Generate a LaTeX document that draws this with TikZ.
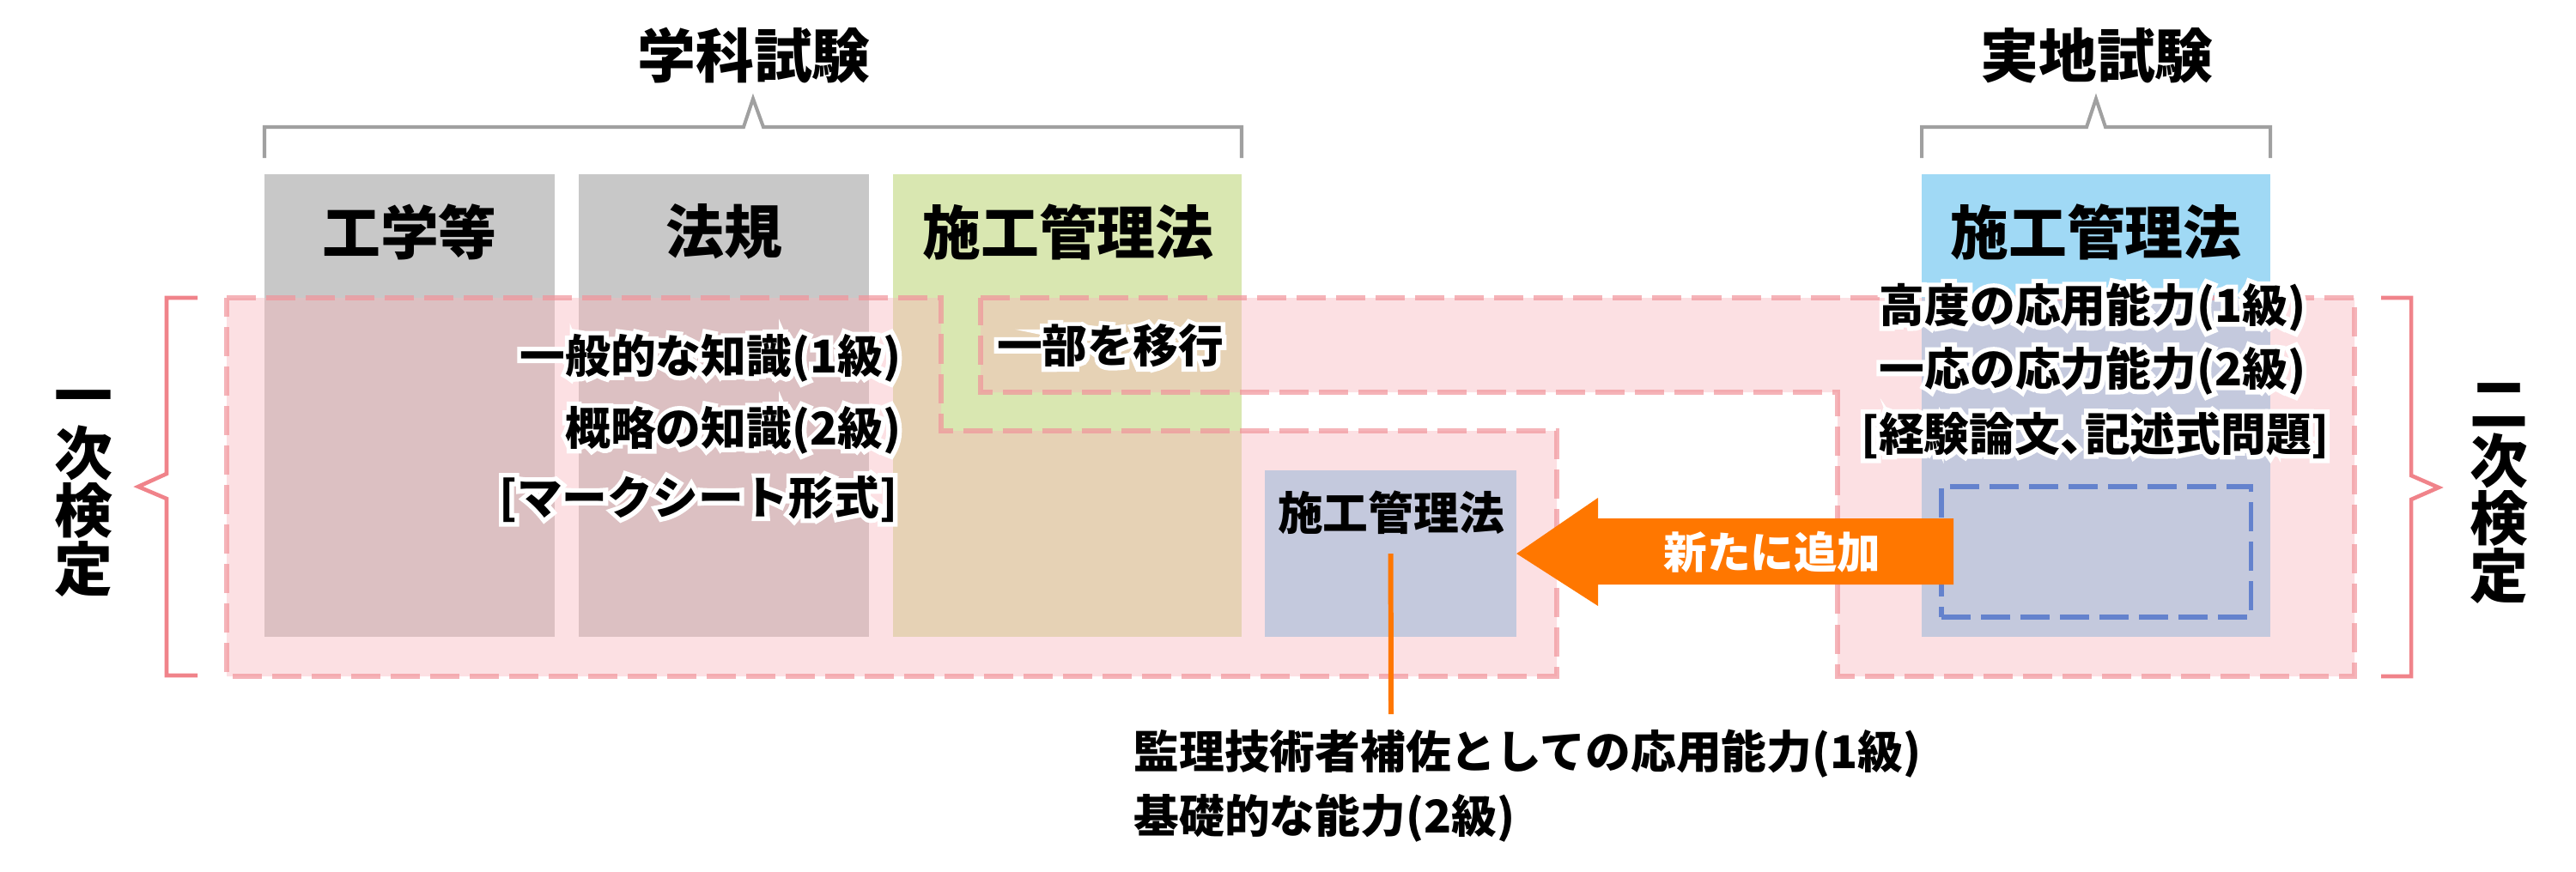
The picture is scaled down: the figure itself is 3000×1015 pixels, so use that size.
\documentclass[tikz,border=0pt]{standalone}
\usepackage{fontspec}
\setmainfont{Noto Sans CJK JP}
\newfontfamily\halofont{Noto Sans CJK JP}[BoldFeatures={FakeBold=20}]
\newcommand\halo[1]{\leavevmode\rlap{\halofont\bfseries\color{white}#1}{#1}}
\definecolor{boxgray}{RGB}{200,200,200}
\definecolor{boxgreen}{RGB}{217,231,177}
\definecolor{boxblue}{RGB}{160,217,245}
\definecolor{pinkfill}{RGB}{248,181,188}
\definecolor{pinkdash}{RGB}{241,148,155}
\definecolor{brpink}{RGB}{240,131,138}
\definecolor{brgray}{RGB}{160,160,160}
\definecolor{dashblue}{RGB}{100,130,205}
\definecolor{orangec}{RGB}{255,119,0}
\begin{document}
\begin{tikzpicture}[x=0.01cm,y=-0.01cm,
  box/.style={anchor=north west, inner sep=0pt, outer sep=0pt},
  title/.style={font=\fontsize{19.3}{20}\selectfont\bfseries, inner sep=0pt},
  vert/.style={font=\fontsize{19.3}{19.07}\selectfont\bfseries, inner sep=0pt, align=center},
  mid/.style={font=\fontsize{15}{16}\selectfont\bfseries, inner sep=0pt},
  region/.style={fill=pinkfill, fill opacity=0.42},
  regionline/.style={draw=pinkdash, draw opacity=0.7, line width=1.6pt, dash pattern=on 0.34cm off 0.12cm},
  brk/.style={draw=brpink, line width=1.3pt},
  topbrk/.style={draw=brgray, line width=1.15pt},
]
\useasboundingbox (0,0) rectangle (3000,1015);

% boxes
\node[box, fill=boxgray, minimum width=3.38cm, minimum height=5.39cm] (kogaku) at (308,203) {};
\node[box, fill=boxgray, minimum width=3.38cm, minimum height=5.39cm] (hoki) at (674,203) {};
\node[box, fill=boxgreen, minimum width=4.06cm, minimum height=5.39cm] (sekoA) at (1040,203) {};
\node[box, fill=boxblue, minimum width=4.06cm, minimum height=5.39cm] (sekoB) at (2238,203) {};
\node[box, fill=boxblue, minimum width=2.93cm, minimum height=1.94cm] (small) at (1473,548) {};

% pink regions
\fill[region] (264,347) -- (1096,347) -- (1096,502) -- (1813,502) -- (1813,788) -- (264,788) -- cycle;
\draw[regionline] (264,347) -- (1096,347) -- (1096,502) -- (1813,502) -- (1813,788) -- (264,788) -- cycle;
\fill[region] (1142,347) -- (2742,347) -- (2742,788) -- (2140,788) -- (2140,457) -- (1142,457) -- cycle;
\draw[regionline] (1142,347) -- (2742,347) -- (2742,788) -- (2140,788) -- (2140,457) -- (1142,457) -- cycle;

% new slot
\node[box, draw=dashblue, line width=1.5pt, dash pattern=on 0.34cm off 0.12cm, minimum width=3.6cm, minimum height=1.52cm] (slot) at (2261,567) {};

% top brackets
\draw[topbrk] (308,184) -- (308,148) -- (866,148) -- (877,115) -- (889,148) -- (1446,148) -- (1446,184);
\draw[topbrk] (2238,184) -- (2238,148) -- (2430,148) -- (2441,115) -- (2452,148) -- (2644,148) -- (2644,184);

% side brackets
\draw[brk] (230,347) -- (194,347) -- (194,552) -- (161,567) -- (194,581) -- (194,787) -- (230,787);
\draw[brk] (2773,347) -- (2808,347) -- (2808,554) -- (2840,568) -- (2808,582) -- (2808,788) -- (2773,788);

% titles
\node[title] (t1) at (878,65) {学科試験};
\node[title] (t2) at (2442,65) {実地試験};
\node[title] (h1) at (477,270) {工学等};
\node[title] (h2) at (843,270) {法規};
\node[title] (h3) at (1244,270) {施工管理法};
\node[title] (h4) at (2441,270) {施工管理法};
\node[vert] (v1) at (97,575) {一\\次\\検\\定};
\node[vert] (v2) at (2910,575) {二\\次\\検\\定};

% halo texts
\node[mid, anchor=east] (k1) at (1050,417) {\halo{一般的な知識(1級)}};
\node[mid, anchor=east] (k2) at (1050,501) {\halo{概略の知識(2級)}};
\node[mid, anchor=east] (k3) at (1046,581) {\halo{[マークシート形式]}};
\node[mid] (ichibu) at (1293,403) {\halo{一部を移行}};
\node[mid] (r1) at (2437,358) {\halo{高度の応用能力(1級)}};
\node[mid] (r2) at (2437,432) {\halo{一応の応力能力(2級)}};
\node[mid] (r3) at (2440,507) {\halo{[経験論文、\kern-0.45em記述式問題]}};

% small box label
\node[mid] (smalltxt) at (1620,597) {施工管理法};

% arrow
\coordinate (tip) at (small.east);
\fill[orangec] (tip) -- (1861,580) -- (1861,604) -- (2275,604) -- (2275,681) -- (1861,681) -- (1861,706) -- cycle;
\node[mid, text=white, font=\fontsize{14.4}{15}\selectfont\bfseries] (addtxt) at (2064,643) {新たに追加};

% note
\coordinate (noteTop) at (1620,832);
\draw[orangec, line width=1.7pt] (small.center) -- (noteTop);
\node[mid, anchor=west] (n1) at (1320,878) {監理技術者補佐としての応用能力(1級)};
\node[mid, anchor=west] (n2) at (1320,953) {基礎的な能力(2級)};
\end{tikzpicture}
\end{document}
